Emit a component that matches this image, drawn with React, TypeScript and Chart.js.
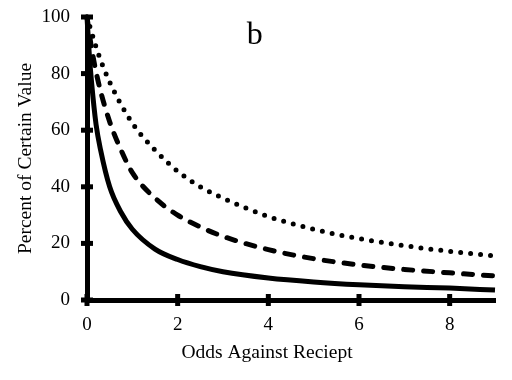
import React, { useEffect, useRef } from "react";
import { Chart, registerables } from "chart.js";

Chart.register(...registerables);

// ---- data ----
const xTickValues = [0, 2, 4, 6, 8];
const yTickValues = [0, 20, 40, 60, 80, 100];

const solidX = [0, 0.05, 0.1, 0.2, 0.3, 0.5, 0.75, 1, 1.5, 2, 2.5, 3, 4, 5, 6, 7, 8, 9];
const solidY = [100, 87, 77, 62, 53, 40, 31, 25, 18, 14.3, 11.8, 10, 7.8, 6.4, 5.4, 4.7, 4.2, 3.5];

const dashedX = [0, 0.1, 0.25, 0.5, 0.75, 1, 1.5, 2, 2.5, 3, 4, 5, 6, 7, 8, 9];
const dashedY = [100, 89, 77, 63, 53, 45, 36, 30, 25.8, 22.5, 17.8, 14.6, 12.4, 10.8, 9.6, 8.5];

const dottedX = [0, 0.25, 0.5, 1, 1.5, 2, 2.5, 3, 4, 5, 6, 7, 8, 9];
const dottedY = [100, 87, 77, 62.5, 53, 45.5, 40, 36, 29.5, 25, 21.7, 19.2, 17.2, 15.6];

const panelLabel = "b";
const panelLabelAt = [3.7, 90.5];
const xTitle = "Odds Against Reciept";
const xTitleCenter = 3.97;
const yTitle = "Percent of Certain Value";

const FONT = "'Liberation Serif', 'Times New Roman', serif";

const toPoints = (xs: number[], ys: number[]) => xs.map((x, i) => ({ x, y: ys[i] }));

const decorPlugin = {
  id: "decor",
  afterDraw(chart: any) {
    const { ctx, chartArea } = chart;
    const xs = chart.scales.x;
    const ys = chart.scales.y;
    ctx.save();
    ctx.fillStyle = "#000";
    xs.ticks.forEach((t: any) => {
      const px = xs.getPixelForValue(t.value);
      ctx.fillRect(px - 2.5, chartArea.bottom - 6, 5, 12);
    });
    ys.ticks.forEach((t: any) => {
      const py = ys.getPixelForValue(t.value);
      ctx.fillRect(chartArea.left - 6, py - 2.5, 12, 5);
    });
    ctx.font = `32px ${FONT}`;
    ctx.textAlign = "center";
    ctx.textBaseline = "alphabetic";
    ctx.fillText(panelLabel, xs.getPixelForValue(panelLabelAt[0]), ys.getPixelForValue(panelLabelAt[1]));
    ctx.font = `19.5px ${FONT}`;
    ctx.fillText(xTitle, xs.getPixelForValue(xTitleCenter), chartArea.bottom + 58);
    ctx.restore();
  },
};

export default function App() {
  const ref = useRef<HTMLCanvasElement | null>(null);

  useEffect(() => {
    if (!ref.current) return;
    const common = {
      pointRadius: 0,
      borderColor: "#000",
      borderWidth: 5,
      fill: false,
      cubicInterpolationMode: "monotone" as const,
      clip: false as any,
    };
    const hiddenGrid = (len: number) => ({
      display: true,
      drawOnChartArea: false,
      drawTicks: true,
      tickLength: len,
      color: "rgba(0,0,0,0)",
    });
    const chart = new Chart(ref.current, {
      type: "line",
      data: {
        datasets: [
          { ...common, data: toPoints(solidX, solidY) },
          { ...common, data: toPoints(dashedX, dashedY), borderDash: [9, 11], borderCapStyle: "round" },
          { ...common, data: toPoints(dottedX, dottedY), borderDash: [0, 10], borderCapStyle: "round" },
        ],
      },
      options: {
        animation: false,
        responsive: true,
        maintainAspectRatio: false,
        layout: { padding: { top: 9, right: 9, left: 0, bottom: 0 } },
        plugins: { legend: { display: false }, tooltip: { enabled: false } },
        scales: {
          x: {
            type: "linear",
            min: 0,
            max: 9,
            grid: hiddenGrid(16),
            border: { display: true, color: "#000", width: 5 },
            afterBuildTicks: (s: any) => {
              s.ticks = xTickValues.map((v) => ({ value: v }));
            },
            afterFit: (s: any) => {
              s.height = 72;
            },
            ticks: {
              color: "#000",
              padding: 0,
              maxRotation: 0,
              font: { family: FONT, size: 19, lineHeight: 1 },
            },
            title: { display: false, text: xTitle },
          },
          y: {
            type: "linear",
            min: 0,
            max: 100,
            grid: hiddenGrid(17),
            border: { display: true, color: "#000", width: 5 },
            afterBuildTicks: (s: any) => {
              s.ticks = yTickValues.map((v) => ({ value: v }));
            },
            afterFit: (s: any) => {
              s.width = 79;
            },
            ticks: {
              color: "#000",
              padding: 0,
              font: { family: FONT, size: 19, lineHeight: 0.9 },
            },
            title: {
              display: true,
              text: yTitle,
              color: "#000",
              padding: { top: 6, bottom: 0 },
              font: { family: FONT, size: 19.5, lineHeight: 1.2 },
            },
          },
        },
      },
      plugins: [decorPlugin],
    });
    return () => chart.destroy();
  }, []);

  return (
    <div style={{ width: 496, height: 364, position: "relative" }}>
      <canvas ref={ref} />
    </div>
  );
}
